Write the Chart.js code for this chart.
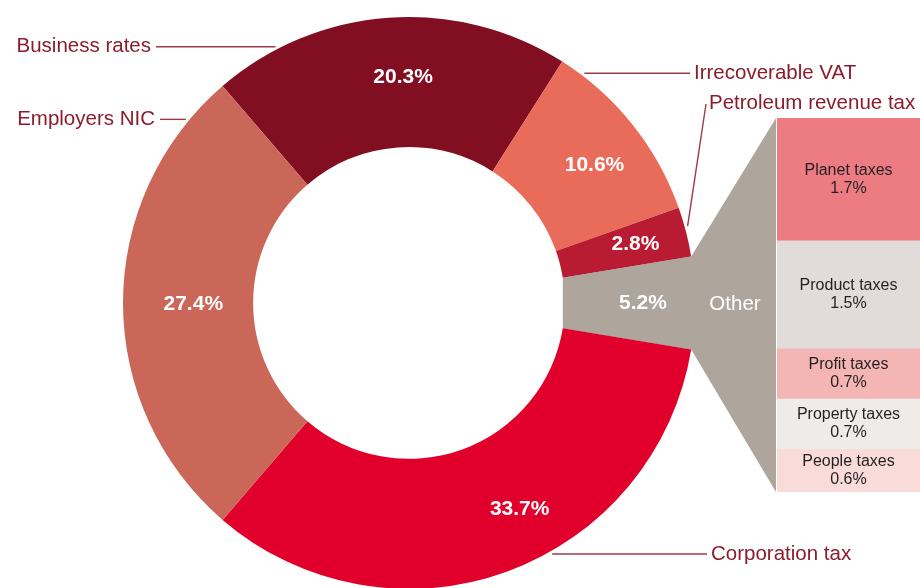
<!DOCTYPE html>
<html>
<head>
<meta charset="utf-8">
<script src="https://cdn.jsdelivr.net/npm/chart.js@4/dist/chart.umd.min.js"></script>
<style>
  html, body { margin: 0; padding: 0; background: #fff; overflow: hidden; }
  #wrap { position: relative; width: 920px; height: 600px; }
  #donut { position: absolute; left: 0; top: 0; }
  #stack { position: absolute; left: 777px; top: 118px; }
</style>
</head>
<body>
<div id="wrap">
  <canvas id="donut" width="920" height="600"></canvas>
  <canvas id="stack" width="143" height="374"></canvas>
</div>
<script>
// ---- data ----
const categories = ["Business rates", "Irrecoverable VAT", "Petroleum revenue tax", "Other", "Corporation tax", "Employers NIC"];
const shares = [20.3, 10.6, 2.8, 5.2, 33.7, 27.4];
const otherCategories = ["Planet taxes", "Product taxes", "Profit taxes", "Property taxes", "People taxes"];
const otherShares = [1.7, 1.5, 0.7, 0.7, 0.6];

// ---- styles ----
const sliceColors = ["#820E21", "#E96C5A", "#B91B32", "#AEA59D", "#E0002B", "#CA6759"];
const otherColors = ["#EC7C82", "#E1DCD9", "#F4B6B4", "#EFEBE8", "#F9DBDA"];
// where each percentage label sits: [fraction along slice, fraction across ring]
const pctLabelPlacement = [[0.536, 0.54], [0.548, 0.58], [0.49, 0.6], [0.5, 0.6], [0.432, 0.6], [0.496, 0.46]];
const FONT = "'Liberation Sans', Arial, Helvetica, sans-serif";
const LABEL_RED = "#8A1C2D";
const LINE_RED = "#9E3A4A";
Chart.defaults.font.family = FONT;

const otherIndex = categories.indexOf("Other");
const total = shares.reduce((a, b) => a + b, 0);
const before = shares.slice(0, otherIndex).reduce((a, b) => a + b, 0);
// rotate so that "Other" is centred at 3 o'clock
const rotation = 90 - (before + shares[otherIndex] / 2) / total * 360;

// callout annotations: slice index, fraction along slice where leader touches, text x, alignment
const callouts = [
  { idx: 0, frac: 0.18, textX: 151, lineEnd: 156, align: "right" },
  { idx: 5, frac: 0.9, textX: 155, lineEnd: 160, align: "right" },
  { idx: 1, frac: 0.13, textX: 694, lineEnd: 690, align: "left" },
  { idx: 4, frac: 0.42, textX: 711, lineEnd: 707, align: "left" },
  { idx: 2, frac: 0.4, textX: 709, textY: 103, lineEnd: 706, align: "left", diagonal: true }
];

// ---- stacked bar for the breakdown of "Other" ----
const stackLabelPlugin = {
  id: "stackLabels",
  afterDatasetsDraw(chart) {
    const ctx = chart.ctx;
    ctx.save();
    ctx.fillStyle = "#231F20";
    ctx.font = "16px " + FONT;
    ctx.textAlign = "center";
    ctx.textBaseline = "middle";
    chart.data.datasets.forEach((ds, i) => {
      const el = chart.getDatasetMeta(i).data[0];
      const cy = (el.y + el.base) / 2;
      const cx = chart.chartArea.left + chart.chartArea.width / 2;
      ctx.fillText(ds.label, cx, cy - 9);
      ctx.fillText(ds.data[0].toFixed(1) + "%", cx, cy + 9);
    });
    ctx.restore();
  }
};

const stackChart = new Chart(document.getElementById("stack"), {
  type: "bar",
  data: {
    labels: ["Other"],
    datasets: otherCategories.map((name, i) => ({
      label: name,
      data: [otherShares[i]],
      backgroundColor: otherColors[i],
      borderWidth: 0,
      barPercentage: 1,
      categoryPercentage: 1
    }))
  },
  options: {
    responsive: false,
    animation: false,
    events: [],
    layout: { padding: 0 },
    plugins: { legend: { display: false }, tooltip: { enabled: false } },
    scales: {
      x: { stacked: true, display: false },
      y: { stacked: true, display: false, reverse: true, min: 0, max: otherShares.reduce((a, b) => a + b, 0) }
    }
  },
  plugins: [stackLabelPlugin]
});

// ---- doughnut ----
const connectorPlugin = {
  id: "connector",
  beforeDatasetsDraw(chart) {
    const arc = chart.getDatasetMeta(0).data[otherIndex];
    const sc = document.getElementById("stack");
    const area = stackChart.chartArea;
    const left = sc.offsetLeft + area.left - 1;
    const top = sc.offsetTop + area.top;
    const bottom = sc.offsetTop + area.bottom;
    const ctx = chart.ctx;
    ctx.save();
    ctx.fillStyle = sliceColors[otherIndex];
    ctx.beginPath();
    ctx.moveTo(arc.x + arc.outerRadius * Math.cos(arc.startAngle), arc.y + arc.outerRadius * Math.sin(arc.startAngle));
    ctx.lineTo(left, top);
    ctx.lineTo(left, bottom);
    ctx.lineTo(arc.x + arc.outerRadius * Math.cos(arc.endAngle), arc.y + arc.outerRadius * Math.sin(arc.endAngle));
    ctx.lineTo(arc.x + arc.innerRadius * Math.cos(arc.endAngle), arc.y + arc.innerRadius * Math.sin(arc.endAngle));
    ctx.lineTo(arc.x + arc.innerRadius * Math.cos(arc.startAngle), arc.y + arc.innerRadius * Math.sin(arc.startAngle));
    ctx.closePath();
    ctx.fill();
    ctx.restore();
  },
  afterDatasetsDraw(chart) {
    const meta = chart.getDatasetMeta(0);
    const ctx = chart.ctx;
    ctx.save();
    // percentage labels
    ctx.fillStyle = "#FFFFFF";
    ctx.font = "bold 21px " + FONT;
    ctx.textAlign = "center";
    ctx.textBaseline = "middle";
    meta.data.forEach((arc, i) => {
      const p = pctLabelPlacement[i];
      const ang = arc.startAngle + (arc.endAngle - arc.startAngle) * p[0];
      const r = arc.innerRadius + (arc.outerRadius - arc.innerRadius) * p[1];
      ctx.fillText(shares[i].toFixed(1) + "%", arc.x + r * Math.cos(ang), arc.y + r * Math.sin(ang));
    });
    // "Other" label in the connector
    const oa = meta.data[otherIndex];
    const sc = document.getElementById("stack");
    const connLeft = oa.x + oa.outerRadius;
    const connRight = sc.offsetLeft + stackChart.chartArea.left;
    ctx.font = "20.5px " + FONT;
    ctx.fillText(categories[otherIndex], (connLeft + connRight) / 2 - 1, oa.y + 1);
    // callouts
    ctx.strokeStyle = LINE_RED;
    ctx.lineWidth = 1.4;
    ctx.fillStyle = LABEL_RED;
    ctx.font = "20.5px " + FONT;
    callouts.forEach(c => {
      const arc = meta.data[c.idx];
      const ang = arc.startAngle + (arc.endAngle - arc.startAngle) * c.frac;
      const r = arc.outerRadius + 3;
      const ax = arc.x + r * Math.cos(ang);
      const ay = arc.y + r * Math.sin(ang);
      ctx.beginPath();
      if (c.diagonal) {
        ctx.moveTo(ax, ay);
        ctx.lineTo(c.lineEnd, c.textY + 1);
        ctx.stroke();
        ctx.textAlign = c.align;
        ctx.fillText(categories[c.idx], c.textX, c.textY);
      } else {
        ctx.moveTo(ax, ay);
        ctx.lineTo(c.lineEnd, ay);
        ctx.stroke();
        ctx.textAlign = c.align;
        ctx.fillText(categories[c.idx], c.textX, ay);
      }
    });
    ctx.restore();
  }
};

new Chart(document.getElementById("donut"), {
  type: "doughnut",
  data: {
    labels: categories,
    datasets: [{
      data: shares,
      backgroundColor: sliceColors,
      borderWidth: 0
    }]
  },
  options: {
    responsive: false,
    animation: false,
    events: [],
    cutout: "54.5%",
    rotation: rotation,
    layout: { padding: { left: 123, right: 225, top: 17, bottom: 11 } },
    plugins: { legend: { display: false }, tooltip: { enabled: false } }
  },
  plugins: [connectorPlugin]
});
</script>
</body>
</html>
